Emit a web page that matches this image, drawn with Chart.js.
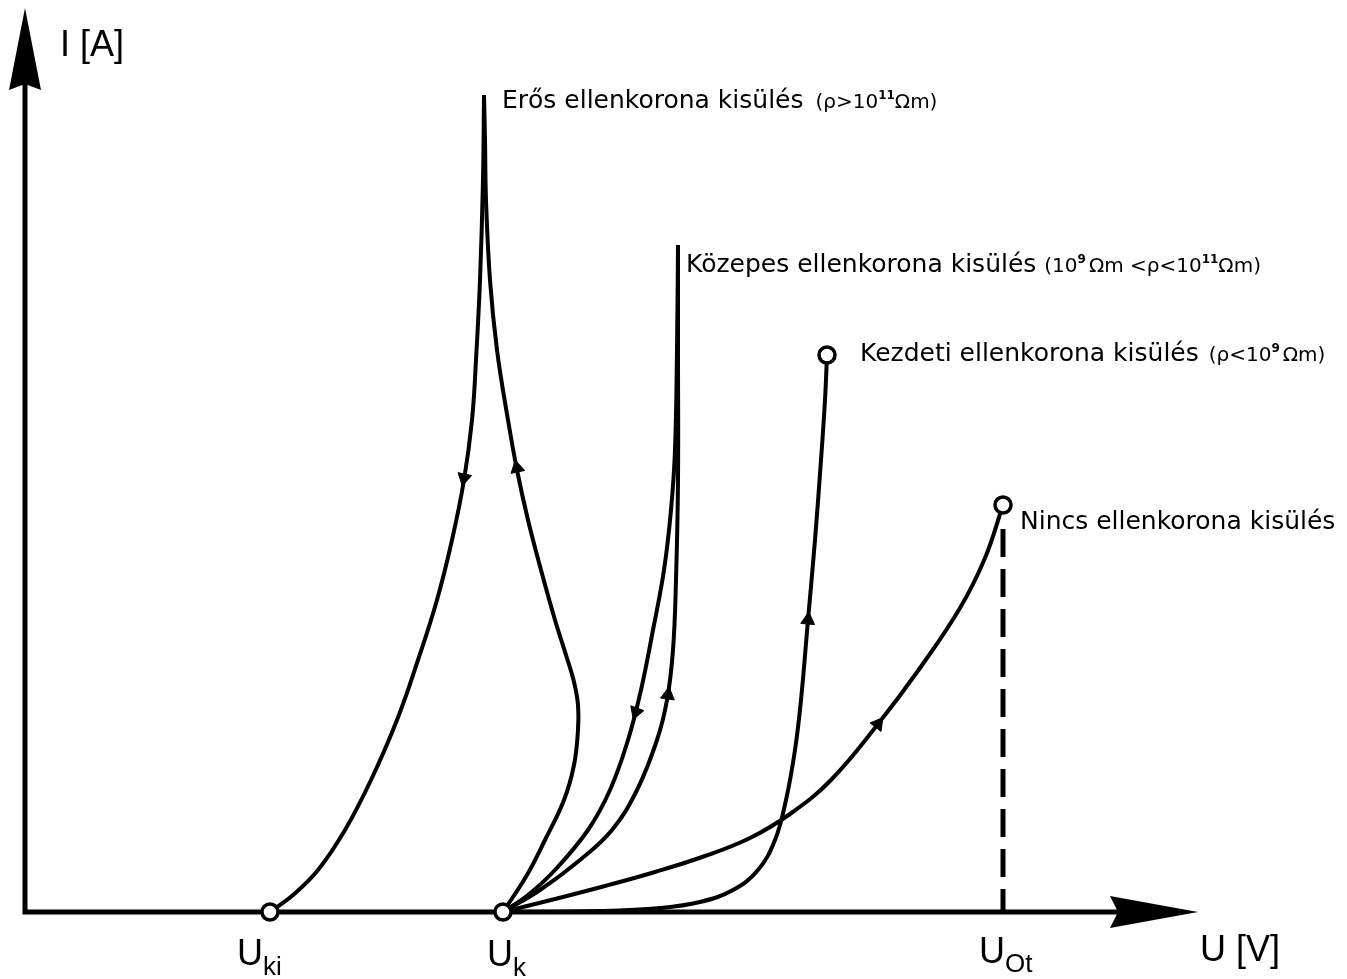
<!DOCTYPE html>
<html>
<head>
<meta charset="utf-8">
<script src="https://cdn.jsdelivr.net/npm/chart.js@4/dist/chart.umd.min.js"></script>
<style>
html, body { margin: 0; padding: 0; background: #fff; }
canvas { display: block; }
</style>
</head>
<body>
<canvas id="chart" width="1347" height="979"></canvas>
<script>
'use strict';

// [U, I] pairs, origin where the two axes cross (arbitrary units)
var erosUp = [[478,0],[502,37],[520,72],[539,112],[549,147],[553,182],[553,207],[549,230],[541,257],
  [530,292],[516,342],[503,392],[492,442],[483,492],[472,562],[465,632],[461,712],[460,772],[459,817]];
var erosDown = [[459,817],[458,732],[455,632],[451,552],[447,492],[439,432],[427,372],[412,312],
  [393,252],[372,192],[346,132],[320,82],[293,42],[268,17],[245,0]];
var kozepesUp = [[478,0],[515,22],[555,52],[587,82],[612,122],[632,172],[642,212],[648,262],
  [651,332],[653,432],[653,562],[653,667]];
var kozepesDown = [[653,667],[652,562],[650,462],[646,402],[639,342],[628,282],[616,222],[603,172],
  [585,122],[563,82],[530,42],[503,17],[478,0]];
var kezdeti = [[478,0],[575,1],[635,4],[675,10],[708,22],[733,42],[750,72],[761,112],[770,162],
  [776,212],[783,292],[790,372],[796,452],[800,512],[802,557]];
var nincs = [[478,0],[530,13],[580,26],[630,40],[680,56],[725,74],[765,98],[805,131],[853,188],
  [895,244],[935,304],[960,354],[978,407]];
var dashedU = [978, 978];
var dashedI = [383, 0];

// open circles: U_ki, U_k, end of "Kezdeti", end of "Nincs"
var circleU = [245, 478, 802, 978];
var circleI = [0, 0, 557, 407];

// direction arrows on the curves (angle in degrees, 0 = pointing up)
var arrowU = [439, 492, 611, 643, 783, 853];
var arrowI = [434, 444, 200, 217, 292, 188];
var arrowAngle = [192, 348, 200, 8, 5, 38];

// axis arrow tips
var uAxisEnd = 1173;
var iAxisEnd = 904;

var canvas = document.getElementById('chart');
var ctx = canvas.getContext('2d');

function toPoints(pairs) {
  return pairs.map(function (p) { return { x: p[0], y: p[1] }; });
}

function curve(pairs) {
  return {
    data: toPoints(pairs),
    showLine: true,
    borderColor: '#000',
    borderWidth: 4,
    pointRadius: 0,
    tension: 0.4,
    order: 2
  };
}

function drawRich(c, x, y, parts) {
  parts.forEach(function (p) {
    c.font = p.font;
    c.fillText(p.t, x, y + (p.dy || 0));
    x += c.measureText(p.t).width + (p.gap || 0);
  });
}

var LBL = '25px "DejaVu Sans"';
var PAR = '20px "DejaVu Sans"';
var SUP = 'bold 12px "DejaVu Sans"';
var BIG = '36px "Liberation Sans"';
var SUB = '26px "Liberation Sans"';

var labels = [
  { u: 477, i: 804, parts: [
    { t: 'Erős ellenkorona kisülés ', font: LBL, gap: 4 },
    { t: '(ρ>10', font: PAR }, { t: '11', font: SUP, dy: -9 }, { t: 'Ωm)', font: PAR }] },
  { u: 661, i: 640, parts: [
    { t: 'Közepes ellenkorona kisülés ', font: LBL },
    { t: '(10', font: PAR }, { t: '9', font: SUP, dy: -9, gap: 3 }, { t: 'Ωm <ρ<10', font: PAR },
    { t: '11', font: SUP, dy: -9 }, { t: 'Ωm)', font: PAR }] },
  { u: 835, i: 551, parts: [
    { t: 'Kezdeti ellenkorona kisülés ', font: LBL, gap: 2 },
    { t: '(ρ<10', font: PAR }, { t: '9', font: SUP, dy: -9, gap: 3 }, { t: 'Ωm)', font: PAR }] },
  { u: 995, i: 383, parts: [{ t: 'Nincs ellenkorona kisülés', font: LBL }] },
  { u: 35, i: 856, parts: [{ t: 'I [A]', font: BIG }] },
  { u: 1175, i: -49, parts: [{ t: 'U [V]', font: BIG }] },
  { u: 212, i: -53, parts: [{ t: 'U', font: BIG }, { t: 'ki', font: SUB, dy: 10 }] },
  { u: 462, i: -54, parts: [{ t: 'U', font: BIG }, { t: 'k', font: SUB, dy: 10 }] },
  { u: 954, i: -51, parts: [{ t: 'U', font: BIG }, { t: 'Ot', font: SUB, dy: 9 }] }
];

var axesPlugin = {
  id: 'axes',
  beforeDatasetsDraw: function (chart) {
    var c = chart.ctx;
    var xs = chart.scales.x;
    var ys = chart.scales.y;
    var ox = xs.getPixelForValue(0);
    var oy = ys.getPixelForValue(0);
    var yTip = ys.getPixelForValue(iAxisEnd);
    var xTip = xs.getPixelForValue(uAxisEnd);
    c.save();
    c.strokeStyle = '#000';
    c.fillStyle = '#000';
    c.lineWidth = 5;
    c.beginPath();
    c.moveTo(ox, oy + 2.5);
    c.lineTo(ox, yTip + 70);
    c.moveTo(ox - 2.5, oy);
    c.lineTo(xTip - 70, oy);
    c.stroke();
    c.beginPath();
    c.moveTo(ox, yTip);
    c.lineTo(ox + 16, yTip + 82);
    c.lineTo(ox, yTip + 76);
    c.lineTo(ox - 16, yTip + 82);
    c.closePath();
    c.fill();
    c.beginPath();
    c.moveTo(xTip, oy);
    c.lineTo(xTip - 88, oy - 16);
    c.lineTo(xTip - 80, oy);
    c.lineTo(xTip - 88, oy + 16);
    c.closePath();
    c.fill();
    c.restore();
  },
  afterDatasetsDraw: function (chart) {
    var c = chart.ctx;
    c.save();
    c.fillStyle = '#000';
    c.textBaseline = 'alphabetic';
    labels.forEach(function (l) {
      drawRich(c, chart.scales.x.getPixelForValue(l.u), chart.scales.y.getPixelForValue(l.i), l.parts);
    });
    c.restore();
  }
};

var chart = new Chart(ctx, {
  type: 'scatter',
  data: {
    datasets: [
      {
        data: circleU.map(function (u, k) { return { x: u, y: circleI[k] }; }),
        pointStyle: 'circle',
        pointRadius: 8,
        backgroundColor: '#fff',
        borderColor: '#000',
        borderWidth: 3.5,
        order: 0
      },
      {
        data: arrowU.map(function (u, k) { return { x: u, y: arrowI[k] }; }),
        pointStyle: 'triangle',
        pointRadius: 8,
        rotation: arrowAngle,
        backgroundColor: '#000',
        borderColor: '#000',
        borderWidth: 1,
        order: 1
      },
      curve(erosUp),
      curve(erosDown),
      curve(kozepesUp),
      curve(kozepesDown),
      curve(kezdeti),
      curve(nincs),
      {
        data: dashedU.map(function (u, k) { return { x: u, y: dashedI[k] }; }),
        showLine: true,
        borderColor: '#000',
        borderWidth: 5,
        borderDash: [28, 12],
        pointRadius: 0,
        order: 3
      }
    ]
  },
  options: {
    responsive: false,
    animation: false,
    layout: { padding: 0, autoPadding: false },
    plugins: { legend: { display: false }, tooltip: { enabled: false } },
    scales: {
      x: { type: 'linear', display: false, min: -25, max: 1322 },
      y: { type: 'linear', display: false, min: -67, max: 912 }
    }
  },
  plugins: [axesPlugin]
});
</script>
</body>
</html>
